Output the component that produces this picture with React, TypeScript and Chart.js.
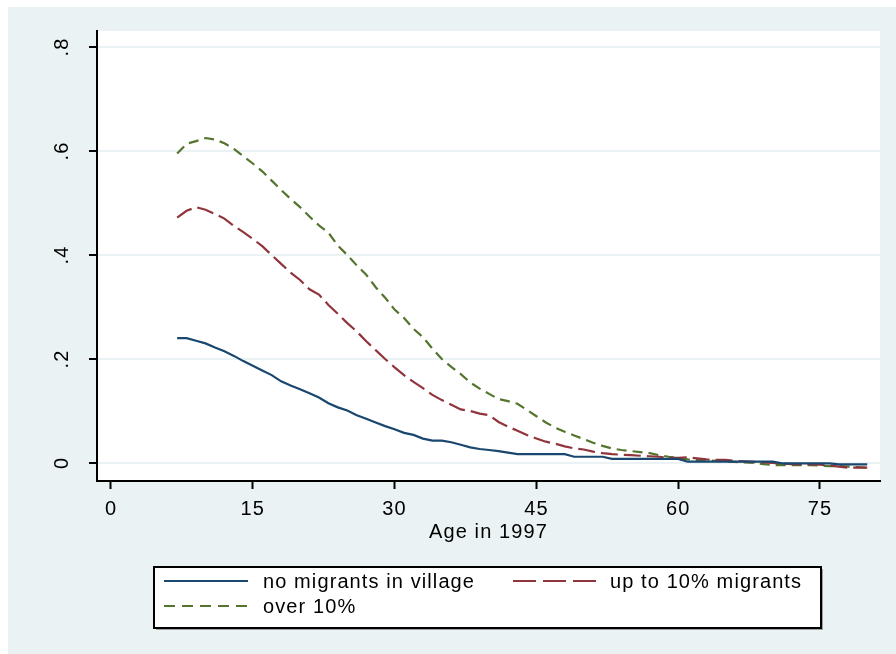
import React, { useEffect, useRef } from "react";
import { Chart, registerables } from "chart.js";

Chart.register(...registerables);

// Age in 1997 (x values)
const ages = [
  7, 8, 9, 10, 11, 12, 13, 14, 15, 16, 17, 18, 19, 20, 21, 22, 23, 24, 25, 26,
  27, 28, 29, 30, 31, 32, 33, 34, 35, 36, 37, 38, 39, 40, 41, 42, 43, 44, 45, 46,
  47, 48, 49, 50, 51, 52, 53, 54, 55, 56, 57, 58, 59, 60, 61, 62, 63, 64, 65, 66,
  67, 68, 69, 70, 71, 72, 73, 74, 75, 76, 77, 78, 79, 80,
];

const noMigrants = [
  0.24, 0.24, 0.235, 0.23, 0.222, 0.215, 0.206, 0.196, 0.187, 0.178, 0.169, 0.157, 0.149, 0.142, 0.134, 0.126, 0.115, 0.107, 0.101, 0.092,
  0.085, 0.078, 0.071, 0.065, 0.058, 0.054, 0.047, 0.043, 0.043, 0.04, 0.035, 0.03, 0.027, 0.025, 0.023, 0.02, 0.017, 0.017, 0.017, 0.017,
  0.017, 0.017, 0.012, 0.012, 0.012, 0.012, 0.008, 0.008, 0.008, 0.008, 0.008, 0.008, 0.008, 0.008, 0.0025, 0.0025, 0.0025, 0.0025, 0.0025, 0.0025,
  0.0025, 0.0025, 0.0025, 0.0025, -0.0006, -0.0006, -0.0006, -0.0006, -0.0006, -0.0006, -0.0025, -0.0025, -0.0025, -0.0025,
];

const upTo10 = [
  0.472, 0.485, 0.492, 0.487, 0.479, 0.47, 0.456, 0.444, 0.431, 0.417, 0.4, 0.383, 0.366, 0.352, 0.334, 0.324, 0.304, 0.287, 0.269, 0.253,
  0.234, 0.217, 0.2, 0.184, 0.169, 0.156, 0.144, 0.131, 0.121, 0.112, 0.103, 0.1, 0.095, 0.092, 0.079, 0.07, 0.062, 0.054, 0.047, 0.041,
  0.037, 0.032, 0.028, 0.026, 0.022, 0.019, 0.017, 0.016, 0.015, 0.014, 0.013, 0.012, 0.01, 0.01, 0.011, 0.009, 0.007, 0.006, 0.006, 0.004,
  0.003, 0.002, 0.001, 0.0, -0.001, -0.002, -0.0025, -0.0025, -0.003, -0.005, -0.007, -0.009, -0.009, -0.009,
];

const over10 = [
  0.595, 0.614, 0.619, 0.625, 0.622, 0.615, 0.604, 0.59, 0.576, 0.561, 0.543, 0.525, 0.508, 0.492, 0.474, 0.457, 0.443, 0.418, 0.4, 0.38,
  0.362, 0.338, 0.318, 0.295, 0.279, 0.258, 0.242, 0.22, 0.2, 0.185, 0.171, 0.155, 0.143, 0.133, 0.123, 0.119, 0.114, 0.102, 0.09, 0.078,
  0.068, 0.06, 0.053, 0.046, 0.039, 0.033, 0.028, 0.025, 0.023, 0.021, 0.019, 0.015, 0.012, 0.01, 0.007, 0.006, 0.005, 0.004, 0.003, 0.002,
  0.001, 0.0, -0.002, -0.004, -0.004, -0.004, -0.004, -0.004, -0.005, -0.006, -0.006, -0.007, -0.008, -0.009,
];

const seriesLabels = ["no migrants in village", "up to 10% migrants", "over 10%"];
const xTicks = [0, 15, 30, 45, 60, 75];
const yTicks = [0, 0.2, 0.4, 0.6, 0.8];
const yTickLabels = ["0", ".2", ".4", ".6", ".8"];
const xTitle = "Age in 1997";

const W = 896;
const H = 654;
const BG = "#eaf2f3";
const FONT = "'Liberation Sans', Arial, sans-serif";
const FS = 20;
const SPACING = "1.1px";

const backgroundPlugin = {
  id: "stataBg",
  beforeDraw(chart: any) {
    const { ctx, chartArea } = chart;
    ctx.save();
    ctx.fillStyle = "#ffffff";
    ctx.fillRect(0, 0, W, H);
    ctx.fillStyle = BG;
    ctx.fillRect(8, 7, W - 8, H - 7);
    ctx.fillStyle = "#ffffff";
    ctx.fillRect(chartArea.left, chartArea.top, chartArea.right - chartArea.left, chartArea.bottom - chartArea.top);
    ctx.restore();
    // Stata-like loose letter spacing for all text drawn afterwards
    try {
      (ctx as any).letterSpacing = SPACING;
    } catch (e) {}
  },
};

const legendPlugin = {
  id: "stataLegend",
  afterDraw(chart: any) {
    const { ctx } = chart;
    const ds = chart.data.datasets;
    const box = { x: 154, y: 567, w: 667, h: 61 };
    ctx.save();
    ctx.fillStyle = "#a0a0a0";
    ctx.fillRect(box.x + 2, box.y + 2, box.w, box.h);
    ctx.fillStyle = "#ffffff";
    ctx.fillRect(box.x, box.y, box.w, box.h);
    ctx.strokeStyle = "#000000";
    ctx.lineWidth = 2;
    ctx.strokeRect(box.x, box.y, box.w, box.h);

    const items = [
      { i: 0, lx: 164, tx: 263, y: 581 },
      { i: 1, lx: 513, tx: 610, y: 581 },
      { i: 2, lx: 164, tx: 263, y: 606 },
    ];
    ctx.font = `${FS}px ${FONT}`;
    (ctx as any).letterSpacing = SPACING;
    ctx.textBaseline = "middle";
    ctx.textAlign = "left";
    for (const it of items) {
      const d = ds[it.i];
      ctx.beginPath();
      ctx.strokeStyle = d.borderColor;
      ctx.lineWidth = 2;
      ctx.setLineDash(d.legendDash || []);
      ctx.moveTo(it.lx, it.y);
      ctx.lineTo(it.lx + 84, it.y);
      ctx.stroke();
      ctx.setLineDash([]);
      ctx.fillStyle = "#000000";
      ctx.fillText(d.label, it.tx, it.y + 1);
    }
    ctx.restore();
  },
};

export default function App() {
  const ref = useRef<HTMLCanvasElement | null>(null);

  useEffect(() => {
    document.body.style.margin = "0";
    const canvas = ref.current;
    if (!canvas) return;
    const mk = (vals: number[]) => ages.map((a, i) => ({ x: a, y: vals[i] }));
    const chart = new Chart(canvas, {
      type: "line",
      data: {
        datasets: [
          {
            label: seriesLabels[0],
            data: mk(noMigrants),
            borderColor: "#1a476f",
            borderWidth: 2.2,
            pointRadius: 0,
            tension: 0,
            fill: false,
          } as any,
          {
            label: seriesLabels[1],
            data: mk(upTo10),
            borderColor: "#90353b",
            borderWidth: 2.2,
            borderDash: [17, 6],
            legendDash: [23, 7],
            pointRadius: 0,
            tension: 0,
            fill: false,
          } as any,
          {
            label: seriesLabels[2],
            data: mk(over10),
            borderColor: "#55752f",
            borderWidth: 2.2,
            borderDash: [10, 6],
            legendDash: [11, 7],
            pointRadius: 0,
            tension: 0,
            fill: false,
          } as any,
        ],
      },
      options: {
        animation: false,
        responsive: false,
        devicePixelRatio: 1,
        layout: { padding: { left: 0, top: 31, right: W - 880, bottom: 108 } },
        plugins: {
          legend: { display: false },
          tooltip: { enabled: false },
          title: { display: false },
        },
        scales: {
          x: {
            type: "linear",
            min: -1.48,
            max: 81.35,
            afterBuildTicks: (s: any) => {
              s.ticks = xTicks.map((v) => ({ value: v }));
            },
            afterFit: (s: any) => {
              s.height = 654 - 108 - 481;
            },
            grid: {
              drawOnChartArea: false,
              drawTicks: true,
              tickLength: 8,
              tickColor: "#000000",
              tickWidth: 2,
            },
            border: { display: true, color: "#000000", width: 2 },
            ticks: {
              color: "#000000",
              font: { family: FONT, size: FS },
              padding: 8,
              maxRotation: 0,
              autoSkip: false,
              callback: (v: any) => String(v),
            },
            title: {
              display: true,
              text: xTitle,
              color: "#000000",
              font: { family: FONT, size: FS },
              padding: { top: 0, bottom: 2 },
            },
          },
          y: {
            type: "linear",
            min: -0.0346,
            max: 0.8308,
            afterBuildTicks: (s: any) => {
              s.ticks = yTicks.map((v) => ({ value: v }));
            },
            afterFit: (s: any) => {
              s.width = 97;
            },
            grid: {
              drawOnChartArea: true,
              color: BG,
              lineWidth: 2,
              drawTicks: true,
              tickLength: 8,
              tickColor: "#000000",
              tickWidth: 2,
            },
            border: { display: true, color: "#000000", width: 2 },
            ticks: {
              color: "#000000",
              font: { family: FONT, size: FS },
              padding: 18,
              minRotation: 90,
              maxRotation: 90,
              crossAlign: "center",
              autoSkip: false,
              callback: (v: any) => {
                const idx = yTicks.findIndex((t) => Math.abs(t - v) < 1e-9);
                return idx >= 0 ? yTickLabels[idx] : "";
              },
            },
          },
        },
      },
      plugins: [backgroundPlugin, legendPlugin],
    });
    return () => chart.destroy();
  }, []);

  return (
    <div style={{ position: "absolute", left: 0, top: 0, width: W, height: H }}>
      <canvas ref={ref} width={W} height={H} style={{ display: "block", width: W, height: H }} />
    </div>
  );
}
